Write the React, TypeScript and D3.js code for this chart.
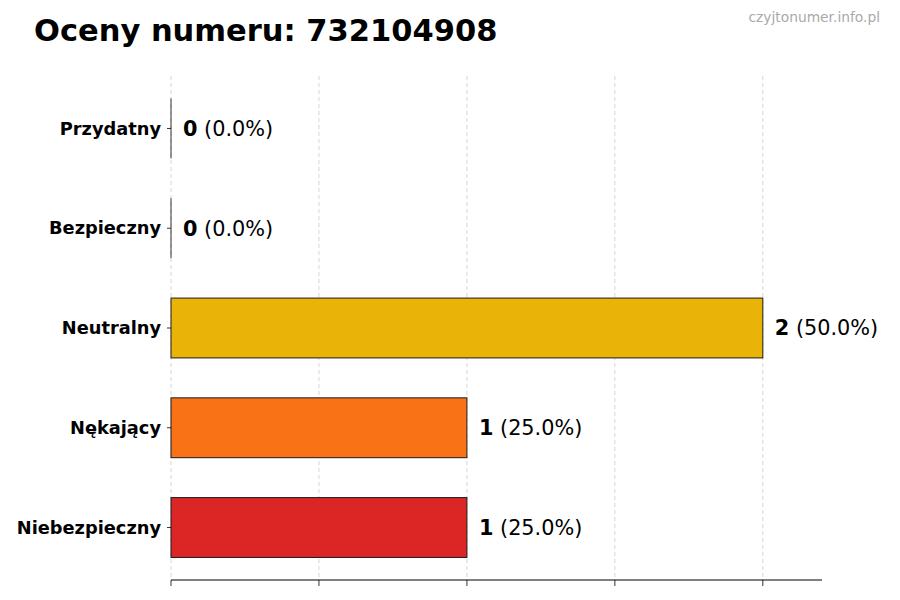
import * as d3 from "d3";

const categories = ["Przydatny", "Bezpieczny", "Neutralny", "Nękający", "Niebezpieczny"];
const counts = [0, 0, 2, 1, 1];
const percents = ["0.0%", "0.0%", "50.0%", "25.0%", "25.0%"];
const barColors = ["#22c55e", "#3b82f6", "#EAB308", "#F97316", "#DC2626"];
const xTicks = [0, 0.5, 1, 1.5, 2];

const W = 900;
const H = 600;
const font = "DejaVu Sans, sans-serif";

export default function App() {
  const x = d3.scaleLinear().domain([0, 2.2]).range([171, 822]);
  const y = d3
    .scaleBand<string>()
    .domain(categories)
    .range([76, 580])
    .paddingInner(0.4)
    .paddingOuter(0.226);

  return (
    <svg width={W} height={H} style={{ display: "block", margin: -8, fontFamily: font }}>
      <rect width={W} height={H} fill="#fff" />
      <text x={34} y={41} fontSize={30.5} fontWeight="bold" fill="#000">
        Oceny numeru: 732104908
      </text>
      <text x={880} y={22} fontSize={13.8} textAnchor="end" fill="#aaa">
        czyjtonumer.info.pl
      </text>

      {/* grid */}
      {xTicks.map((t) => (
        <line
          key={t}
          x1={x(t)}
          x2={x(t)}
          y1={76}
          y2={580}
          stroke="#ccc"
          strokeWidth={0.8}
          strokeDasharray="4 3"
        />
      ))}

      {/* bars */}
      {categories.map((c, i) => {
        const y0 = y(c)!;
        const bw = y.bandwidth();
        const w = x(counts[i]) - x(0);
        return (
          <g key={c}>
            {w > 0 ? (
              <rect x={x(0)} y={y0} width={w} height={bw} fill={barColors[i]} stroke="#1a1a1a" strokeWidth={1} />
            ) : (
              <line x1={x(0)} x2={x(0)} y1={y0} y2={y0 + bw} stroke="#333" strokeWidth={1} />
            )}
            <text x={x(counts[i]) + 12} y={y0 + bw / 2} dy="0.35em" fontSize={20.8} fill="#000">
              <tspan fontWeight="bold">{counts[i]}</tspan>
              <tspan> ({percents[i]})</tspan>
            </text>
            <line x1={167} x2={171} y1={y0 + bw / 2} y2={y0 + bw / 2} stroke="#000" strokeWidth={0.8} />
            <text
              x={161}
              y={y0 + bw / 2}
              dy="0.35em"
              fontSize={17.8}
              fontWeight="bold"
              textAnchor="end"
              fill="#000"
            >
              {c}
            </text>
          </g>
        );
      })}

      {/* x axis */}
      <line x1={x(0)} x2={x(2.2)} y1={580} y2={580} stroke="#000" strokeWidth={1} />
      {xTicks.map((t) => (
        <line key={t} x1={x(t)} x2={x(t)} y1={580} y2={586} stroke="#000" strokeWidth={0.8} />
      ))}
    </svg>
  );
}
